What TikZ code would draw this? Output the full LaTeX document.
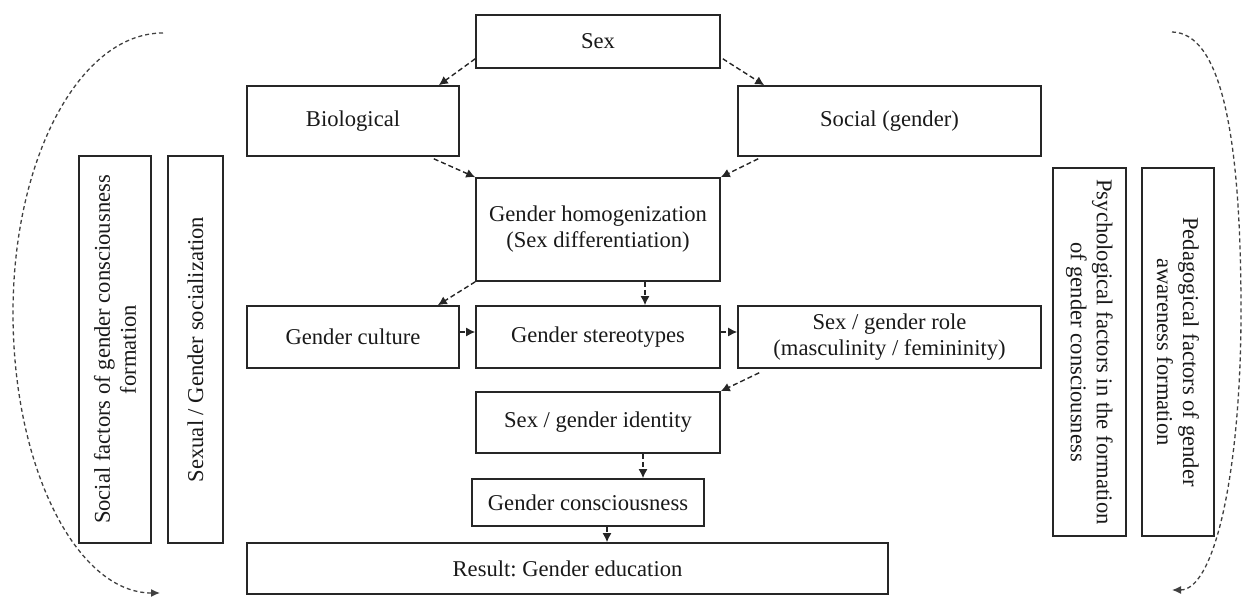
\documentclass[tikz,border=0pt]{standalone}
\usepackage{fontspec}
\setmainfont{Liberation Serif}
\usetikzlibrary{arrows.meta,calc}
\frenchspacing
\begin{document}
\begin{tikzpicture}[x=0.5pt,y=-0.5pt,
  box/.style={draw=black!85, line width=0.8pt, inner sep=0pt, align=center,
    font=\fontsize{11.3}{13}\selectfont, text=black!90},
  arr/.style={draw=black!85, line width=0.7pt, dash pattern=on 2.5pt off 1.5pt,
    -{Latex[length=4.5pt,width=4.5pt]}},
  curv/.style={draw=black!75, line width=0.65pt, dash pattern=on 2pt off 1.5pt,
    -{Latex[length=4.5pt,width=4pt]}}]
\useasboundingbox (0,0) rectangle (1242,597);
% main boxes
\node[box, minimum width=122pt, minimum height=26.5pt] (sex) at (598,41.5) {Sex};
\node[box, minimum width=106pt, minimum height=35pt] (bio) at (353,121) {Biological};
\node[box, minimum width=151.5pt, minimum height=35pt] (soc) at (889.5,121) {Social (gender)};
\node[box, minimum width=122pt, minimum height=51.5pt] (hom) at (598,229.5) {Gender homogenization\\(Sex differentiation)};
\node[box, minimum width=106pt, minimum height=31pt] (cul) at (353,337) {Gender culture};
\node[box, minimum width=122pt, minimum height=31pt] (ste) at (598,337) {Gender stereotypes};
\node[box, minimum width=151.5pt, minimum height=31pt] (rol) at (889.5,337) {Sex / gender role\\(masculinity / femininity)};
\node[box, minimum width=122pt, minimum height=30.5pt] (ide) at (598,422.5) {Sex / gender identity};
\node[box, minimum width=116pt, minimum height=23.5pt] (con) at (588,502.5) {Gender consciousness};
\node[box, minimum width=320.5pt, minimum height=25.5pt] (res) at (567.5,568.5) {Result: Gender education};
% vertical boxes
\node[box, rotate=90, minimum width=193.5pt, minimum height=36pt] (socf) at (115,349.5) {Social factors of gender consciousness\\formation};
\node[box, rotate=90, minimum width=193.5pt, minimum height=27.5pt] (sexs) at (195.5,349.5) {Sexual / Gender socialization};
\node[box, rotate=-90, minimum width=184pt, minimum height=36.5pt] (psy) at (1089.5,352) {Psychological factors in the formation\\of gender consciousness};
\node[box, rotate=-90, minimum width=184pt, minimum height=36pt] (ped) at (1178,352) {Pedagogical factors of gender\\awareness formation};
% connectors
\draw[arr] ($(sex.south west)+(0,-10)$) -- ($(bio.north east)+(-21,0)$);
\draw[arr] ($(sex.south east)+(2,-10)$) -- ($(soc.north west)+(27,0)$);
\draw[arr] ($(bio.south east)+(-26,2)$) -- (hom.north west);
\draw[arr] ($(soc.south west)+(21,2)$) -- (hom.north east);
\draw[arr] (hom.south west) -- ($(cul.north east)+(-22,0)$);
\coordinate (h1) at ($(hom.south)+(47,0)$);
\draw[arr] (h1) -- (h1 |- ste.north);
\coordinate (c1) at ($(cul.east)+(0,-5)$);
\draw[arr] (c1) -- (c1 -| ste.west);
\coordinate (s1) at ($(ste.east)+(0,-5)$);
\draw[arr] (s1) -- (s1 -| rol.west);
\draw[arr] ($(rol.south west)+(22,4)$) -- (ide.north east);
\coordinate (i1) at ($(ide.south)+(45,0)$);
\draw[arr] (i1) -- (i1 |- con.north);
\coordinate (g1) at ($(con.south)+(19,0)$);
\draw[arr] (g1) -- (g1 |- res.north);
% curved side arrows
\coordinate (la) at (163,33);
\coordinate (lm) at (13,313);
\coordinate (lb) at (160,593);
\draw[curv] (la) .. controls (80,33) and (13,158) .. (lm) .. controls (13,468) and (77,593) .. (lb);
\coordinate (ra) at (1172,32);
\coordinate (rm) at (1241,311);
\coordinate (rb) at (1172,590);
\draw[curv] (ra) .. controls (1220,33) and (1241,130) .. (rm) .. controls (1241,470) and (1215,590) .. (rb);
\end{tikzpicture}
\end{document}
